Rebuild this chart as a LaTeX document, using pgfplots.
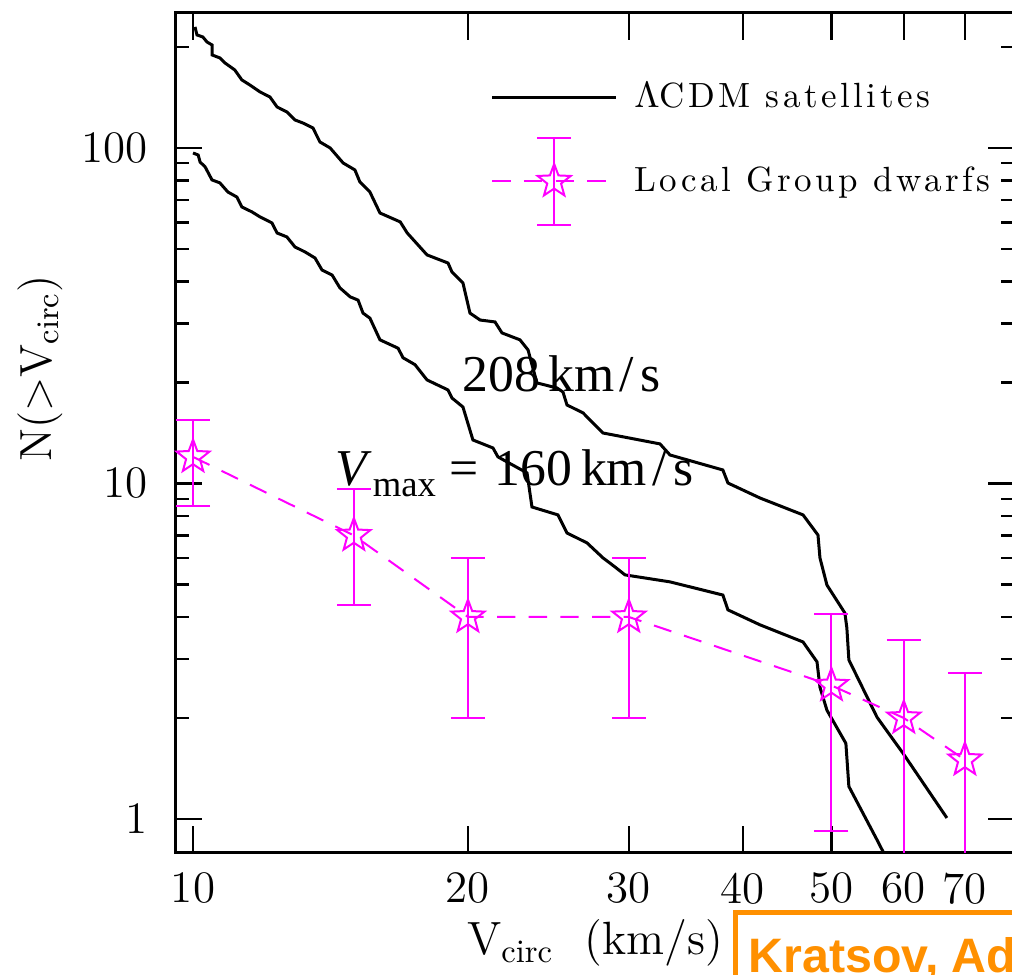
\documentclass[border=0pt]{standalone}
\usepackage{fontspec}
\usepackage{pgfplots}
\usepackage{pgfplotstable}
\pgfplotsset{compat=1.18}
\newfontfamily\timesfont{Liberation Serif}
\newfontfamily\arialfont{Liberation Sans}
\newfontfamily\lmspaced{lmroman10-regular.otf}[LetterSpace=10]
\definecolor{mag}{RGB}{255,0,255}
\definecolor{orng}{RGB}{255,144,0}
\pgfdeclareplotmark{ostar}{%
  \pgfpathmoveto{\pgfpointpolar{90}{\pgfplotmarksize}}%
  \pgfpathlineto{\pgfpointpolar{126}{0.42\pgfplotmarksize}}%
  \pgfpathlineto{\pgfpointpolar{162}{\pgfplotmarksize}}%
  \pgfpathlineto{\pgfpointpolar{198}{0.42\pgfplotmarksize}}%
  \pgfpathlineto{\pgfpointpolar{234}{\pgfplotmarksize}}%
  \pgfpathlineto{\pgfpointpolar{270}{0.42\pgfplotmarksize}}%
  \pgfpathlineto{\pgfpointpolar{306}{\pgfplotmarksize}}%
  \pgfpathlineto{\pgfpointpolar{342}{0.42\pgfplotmarksize}}%
  \pgfpathlineto{\pgfpointpolar{18}{\pgfplotmarksize}}%
  \pgfpathlineto{\pgfpointpolar{54}{0.42\pgfplotmarksize}}%
  \pgfpathclose
  \pgfusepathqstroke
}
\pgfplotstableread{
x y
10.05 229.5
10.10 217.2
10.25 214.2
10.36 206.9
10.49 202.8
10.49 189.4
10.70 185.5
10.84 179.2
11.11 170.8
11.31 159.5
11.54 154.1
11.84 146.9
12.14 141.9
12.36 132.5
12.67 128.0
12.93 121.2
13.19 118.7
13.53 114.7
13.77 104.2
14.13 100.0
14.60 90.2
15.04 86.0
15.23 79.2
15.62 73.9
16.02 64.0
16.86 60.2
17.16 55.8
18.04 48.0
19.02 45.4
19.21 42.7
19.75 39.6
20.10 32.2
20.62 30.7
21.41 30.3
21.79 28.1
22.80 26.8
23.27 25.0
23.50 22.6
23.80 19.94
25.03 19.26
25.41 18.74
25.67 17.14
26.73 16.23
28.11 14.14
32.45 13.12
33.28 12.16
38.03 10.97
38.52 10.03
41.76 9.05
46.54 8.06
48.33 7.02
48.57 6.00
49.43 4.98
51.72 4.11
51.98 3.71
52.24 2.98
56.09 2.01
59.88 1.57
66.89 1.007
}\upcurve
\pgfplotstableread{
x y
10.00 96.6
10.13 95.3
10.18 90.8
10.31 87.8
10.49 80.3
10.70 78.7
10.92 73.9
11.17 71.4
11.31 66.7
11.60 64.5
11.84 62.3
12.20 59.8
12.36 55.8
12.67 54.3
12.93 50.7
13.26 49.0
13.60 47.0
13.84 43.3
14.20 41.8
14.48 38.3
14.86 36.0
15.16 35.2
15.35 32.2
15.62 31.1
16.02 26.8
16.77 25.3
16.98 23.7
17.50 22.6
18.04 20.35
19.02 19.00
19.21 17.98
19.75 16.90
20.25 13.48
21.30 12.76
21.57 12.00
23.21 10.75
23.50 8.51
25.09 8.06
25.67 7.12
27.00 6.65
28.11 6.00
28.97 5.64
29.71 5.34
33.28 5.09
38.03 4.65
38.52 4.20
41.76 3.79
46.54 3.37
48.21 2.94
48.57 2.47
49.43 2.11
51.85 1.68
52.24 1.25
56.09 0.866
57.94 0.729
}\lowcurve
\pgfplotstableread{
x y e
10 12 3.46
15 7 2.65
20 4 2
30 4 2
50 2.5 1.58
60 2 1.41
70 1.5 1.22
}\dwarfs
\begin{document}
\begin{tikzpicture}
\path[use as bounding box] (0pt,0pt) rectangle (303.6pt,292.5pt);
\clip (0pt,0pt) rectangle (303.6pt,292.5pt);
\begin{axis}[
  at={(52.5pt,36.6pt)}, anchor=south west,
  scale only axis, width=252pt, height=252pt,
  xmode=log, ymode=log,
  xmin=9.556, xmax=79.42, ymin=0.7919, ymax=252.5,
  axis line style={line width=0.9pt},
  every tick/.style={black, line width=0.7pt},
  major tick length=8pt, minor tick length=4.2pt,
  xtick={10,20,30,40,50,60,70}, xticklabels={10,20,30,40,50,60,70},
  minor xtick={},
  ytick={1,10,100}, yticklabels={1,10,100},
  minor ytick={2,3,4,5,6,7,8,9,20,30,40,50,60,70,80,90,200},
  xticklabel style={inner sep=0pt, yshift=-5.7pt, font=\fontsize{13.5}{16}\selectfont},
  yticklabel style={inner sep=0pt, xshift=-8pt, font=\fontsize{13.5}{16}\selectfont},
  xlabel={V$_{\mathrm{circ}}$\ \ (km/s)},
  xlabel style={at={(axis description cs:0.5,0)}, anchor=base, yshift=-30.6pt, inner sep=0pt, font=\fontsize{14}{16}\selectfont},
  ylabel={N(>V$_{\mathrm{circ}}$)},
  ylabel style={at={(axis description cs:-0.1607,0.577)}, anchor=center, inner sep=0pt, font=\fontsize{13.5}{16}\selectfont},
  legend style={at={(axis description cs:0.375,0.918)}, anchor=north west, draw=none, fill=none, inner sep=0pt, row sep=16.2pt, column sep=5pt, nodes={inner sep=0pt}, font=\lmspaced\fontsize{10.5}{12}\selectfont},
  legend cell align=left,
]
\addplot[black, line width=0.9pt, legend image code/.code={\draw[black, line width=0.9pt] (0pt,0pt) -- (37.2pt,0pt);}] table[x=x,y=y] {\upcurve};
\addlegendentry{$\Lambda$CDM satellites}
\addplot[black, line width=0.9pt, forget plot] table[x=x,y=y] {\lowcurve};
\addplot[mag, line width=0.6pt, dash pattern=on 5.5pt off 4pt, mark=ostar, mark size=5.2pt, mark options={solid},
  error bars/.cd, y dir=both, y explicit, error mark=|,
  error bar style={solid, line width=0.6pt, mag},
  error mark options={solid, mag, line width=0.6pt, mark size=5.1pt},
  /pgfplots/legend image code/.code={%
    \draw[mag, line width=0.6pt, dash pattern=on 5.5pt off 4pt] (0pt,0pt) -- (36pt,0pt);
    \draw[overlay, mag, line width=0.6pt, solid] (18.6pt,-13pt) -- (18.6pt,13pt) (13.5pt,-13pt) -- (23.7pt,-13pt) (13.5pt,13pt) -- (23.7pt,13pt);
    \draw[overlay, mag, line width=0.6pt, solid, mark size=5.2pt] plot[mark=ostar] coordinates {(18.6pt,0pt)};
  }] table[x=x, y=y, y error=e] {\dwarfs};
\addlegendentry{Local Group dwarfs}
\node[anchor=base west, inner sep=0pt, font=\timesfont\fontsize{15.5}{18}\selectfont] at (axis cs:19.71,18.77) {208\,km\kern1.5pt/\kern2pt s};
\node[anchor=base west, inner sep=0pt, font=\timesfont\fontsize{15.5}{18}\selectfont] at (axis cs:14.30,9.83) {\textit{V}\kern0.2pt\raisebox{-3.3pt}{\fontsize{11}{13}\selectfont max}\kern4pt=\kern5pt160\,km\kern1.5pt/\kern2pt s};
\end{axis}
\draw[orng, line width=1.5pt] (330pt,18.75pt) -- (220.65pt,18.75pt) -- (220.65pt,-15pt);
\node[anchor=base west, inner sep=0pt, text=orng, font=\arialfont\bfseries\fontsize{14.5}{17}\selectfont] at (224.4pt,0.6pt) {Kratsov, Adv. Astron.};
\end{tikzpicture}
\end{document}
